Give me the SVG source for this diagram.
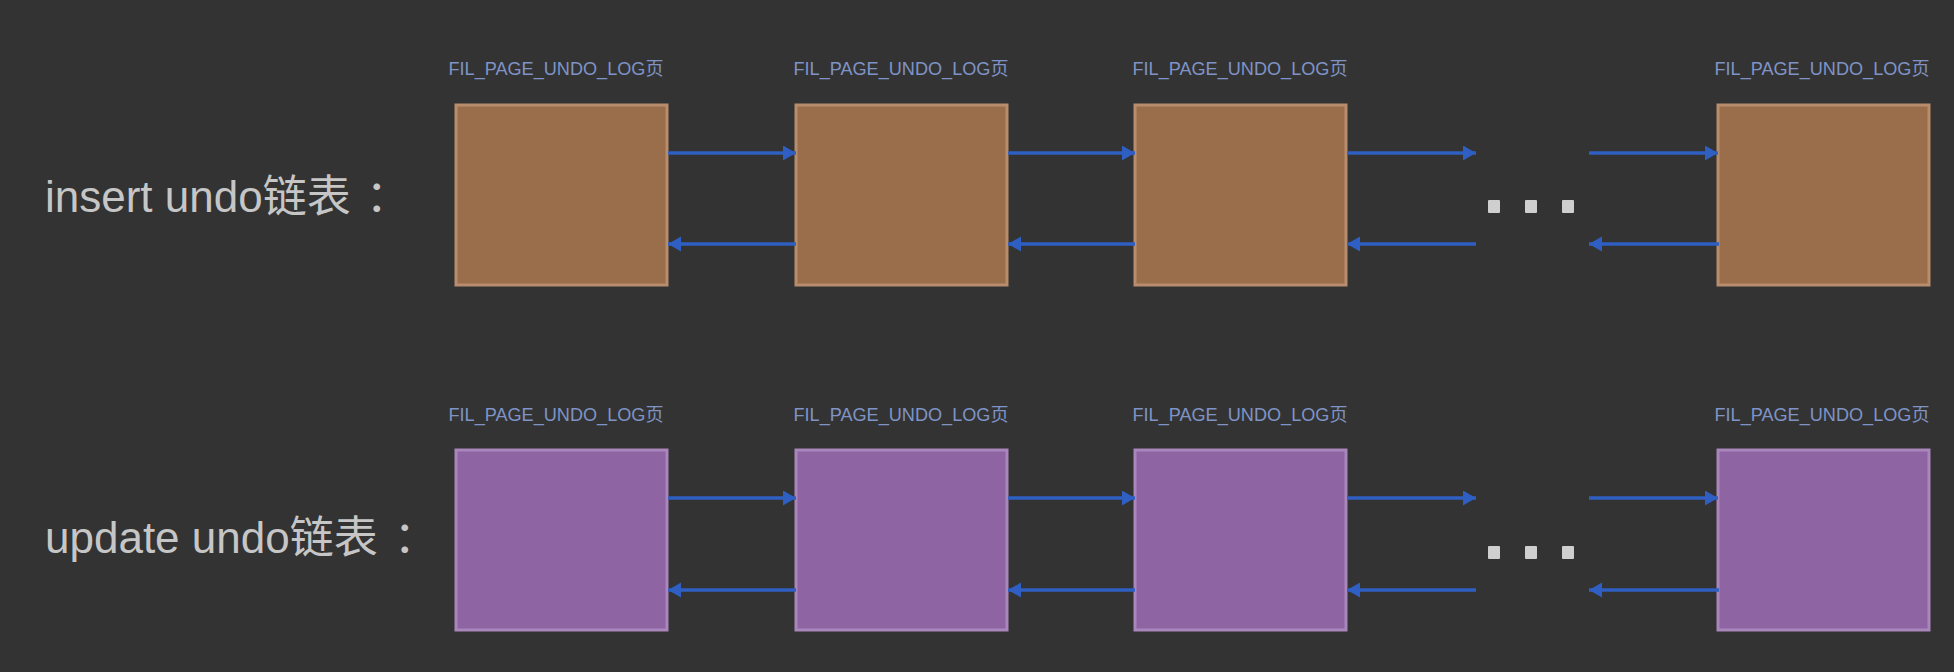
<svg xmlns="http://www.w3.org/2000/svg" width="1954" height="672" viewBox="0 0 1954 672">
<defs>
<style>
.bg{fill:#333333}
.ins{fill:#9a6e4a;stroke:#b88d6e;stroke-width:3}
.upd{fill:#8e64a2;stroke:#a986bb;stroke-width:3}
.lbl{font-family:"Liberation Sans","Noto Sans CJK SC",sans-serif;font-size:18.5px;fill:#7f93c6;text-anchor:middle}
.title{font-family:"Liberation Sans","Noto Sans CJK SC",sans-serif;font-size:44px;fill:#c6c6c6}
.cjk{font-family:"Noto Sans CJK SC",sans-serif}
.arr{stroke:#2f5fc2;stroke-width:3.5;fill:none;marker-end:url(#ah)}
.dot{fill:#cfcfcf}
</style>
<marker id="ah" markerUnits="userSpaceOnUse" markerWidth="14" markerHeight="16" refX="13" refY="7.5" orient="auto">
<path d="M0,0 L13,7.5 L0,15 Z" fill="#2f5fc2"/>
</marker>
</defs>
<rect class="bg" x="0" y="0" width="1954" height="672"/>
<text class="title" x="45" y="212">insert undo<tspan class="cjk">链表</tspan><tspan class="cjk" dx="15">：</tspan></text>
<text class="title" x="45" y="553">update undo<tspan class="cjk">链表</tspan><tspan class="cjk" dx="16">：</tspan></text>
<g id="insert-page-1"><rect class="ins" x="456" y="105" width="211" height="180"/><text class="lbl" x="556" y="75" textLength="215" lengthAdjust="spacingAndGlyphs">FIL_PAGE_UNDO_LOG页</text></g>
<g id="insert-page-2"><rect class="ins" x="796" y="105" width="211" height="180"/><text class="lbl" x="901" y="75" textLength="215" lengthAdjust="spacingAndGlyphs">FIL_PAGE_UNDO_LOG页</text></g>
<g id="insert-page-3"><rect class="ins" x="1135" y="105" width="211" height="180"/><text class="lbl" x="1240" y="75" textLength="215" lengthAdjust="spacingAndGlyphs">FIL_PAGE_UNDO_LOG页</text></g>
<g id="insert-page-n"><rect class="ins" x="1718" y="105" width="211" height="180"/><text class="lbl" x="1822" y="75" textLength="215" lengthAdjust="spacingAndGlyphs">FIL_PAGE_UNDO_LOG页</text></g>
<g id="insert-ellipsis"><rect class="dot" x="1488" y="200" width="12" height="13" rx="1"/><rect class="dot" x="1525" y="200" width="12" height="13" rx="1"/><rect class="dot" x="1562" y="200" width="12" height="13" rx="1"/></g>
<g id="update-page-1"><rect class="upd" x="456" y="450" width="211" height="180"/><text class="lbl" x="556" y="421" textLength="215" lengthAdjust="spacingAndGlyphs">FIL_PAGE_UNDO_LOG页</text></g>
<g id="update-page-2"><rect class="upd" x="796" y="450" width="211" height="180"/><text class="lbl" x="901" y="421" textLength="215" lengthAdjust="spacingAndGlyphs">FIL_PAGE_UNDO_LOG页</text></g>
<g id="update-page-3"><rect class="upd" x="1135" y="450" width="211" height="180"/><text class="lbl" x="1240" y="421" textLength="215" lengthAdjust="spacingAndGlyphs">FIL_PAGE_UNDO_LOG页</text></g>
<g id="update-page-n"><rect class="upd" x="1718" y="450" width="211" height="180"/><text class="lbl" x="1822" y="421" textLength="215" lengthAdjust="spacingAndGlyphs">FIL_PAGE_UNDO_LOG页</text></g>
<g id="update-ellipsis"><rect class="dot" x="1488" y="546" width="12" height="13" rx="1"/><rect class="dot" x="1525" y="546" width="12" height="13" rx="1"/><rect class="dot" x="1562" y="546" width="12" height="13" rx="1"/></g>
<g id="connectors">
<line class="arr" x1="668" y1="153" x2="796" y2="153"/>
<line class="arr" x1="1008" y1="153" x2="1135" y2="153"/>
<line class="arr" x1="1347" y1="153" x2="1476" y2="153"/>
<line class="arr" x1="1589" y1="153" x2="1718" y2="153"/>
<line class="arr" x1="796" y1="244" x2="668" y2="244"/>
<line class="arr" x1="1135" y1="244" x2="1008" y2="244"/>
<line class="arr" x1="1476" y1="244" x2="1347" y2="244"/>
<line class="arr" x1="1719" y1="244" x2="1589" y2="244"/>
<line class="arr" x1="668" y1="498" x2="796" y2="498"/>
<line class="arr" x1="1008" y1="498" x2="1135" y2="498"/>
<line class="arr" x1="1347" y1="498" x2="1476" y2="498"/>
<line class="arr" x1="1589" y1="498" x2="1718" y2="498"/>
<line class="arr" x1="796" y1="590" x2="668" y2="590"/>
<line class="arr" x1="1135" y1="590" x2="1008" y2="590"/>
<line class="arr" x1="1476" y1="590" x2="1347" y2="590"/>
<line class="arr" x1="1719" y1="590" x2="1589" y2="590"/>
</g>
</svg>
